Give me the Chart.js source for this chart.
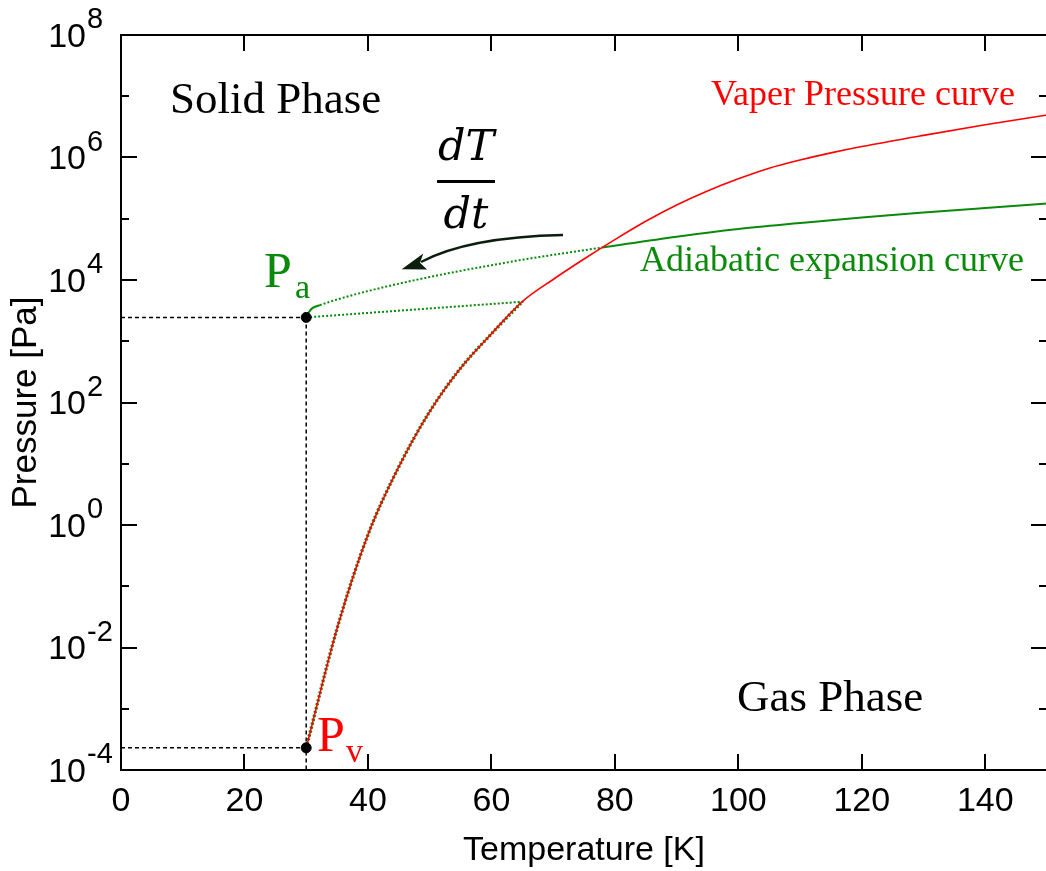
<!DOCTYPE html>
<html>
<head>
<meta charset="utf-8">
<script src="https://cdn.jsdelivr.net/npm/chart.js@4.4.1/dist/chart.umd.min.js"></script>
<style>
  html, body { margin: 0; padding: 0; background: #fff; overflow: hidden; }
</style>
</head>
<body>
<canvas id="phaseChart" width="1047" height="871"></canvas>
<script>
// values: temperature [K], pressure [Pa]
var xTicks = [0, 20, 40, 60, 80, 100, 120, 140];
var yTickExp = [-4, -2, 0, 2, 4, 6, 8];

// vapor pressure curve (red)
var vaporT = [30, 35, 40, 45, 50, 55, 60, 65, 70, 75, 80, 85, 90, 95, 100, 105, 110, 115, 120, 130, 140, 150];
var vaporP = [2.3e-4, 0.0204, 0.69, 8.9, 71, 363, 1320, 4430, 1.02e4, 2.2e4, 4.57e4, 9.1e4, 1.68e5, 2.85e5, 4.5e5, 6.7e5, 9.1e5, 1.19e6, 1.51e6, 2.3e6, 3.42e6, 4.94e6];

// adiabatic expansion curve (green, solid part)
var adiaT = [78, 90, 100, 110, 120, 130, 140, 150];
var adiaP = [3.4e4, 5.1e4, 6.8e4, 8.5e4, 1.05e5, 1.26e5, 1.5e5, 1.78e5];

// adiabatic curve continued below the crossing (dotted)
var adiaDotT = [32.2, 35, 40, 45, 50, 55, 60, 65, 70, 78];
var adiaDotP = [3890, 4800, 6600, 8700, 1.12e4, 1.41e4, 1.74e4, 2.14e4, 2.57e4, 3.4e4];

// short solid bend at Pa
var bendT = [30, 30.4, 31, 32.2];
var bendP = [2450, 2950, 3470, 3890];

// lower dotted path from Pa to the vapor curve
var lowT = [30, 65.2];
var lowP = [2450, 4430];

// vapor curve part followed by the dotted green path
var alongT = [30, 35, 40, 45, 50, 55, 60, 65];
var alongP = [2.3e-4, 0.0204, 0.69, 8.9, 71, 363, 1320, 4430];

// marked points Pa and Pv
var markT = [30, 30];
var markP = [2450, 2.3e-4];

function pts(xs, ys) {
  return xs.map(function (x, i) { return { x: x, y: ys[i] }; });
}

var GREEN = '#0a8a0a';
var RED = '#ff0000';

var axesAndNotes = {
  id: 'axesAndNotes',
  afterDraw: function (chart) {
    var ctx = chart.ctx;
    var a = chart.chartArea;
    var xs = chart.scales.x;
    var ys = chart.scales.y;
    ctx.save();

    function seg(x1, y1, x2, y2) {
      ctx.beginPath();
      ctx.moveTo(x1, y1);
      ctx.lineTo(x2, y2);
      ctx.stroke();
    }

    // frame and inward ticks
    ctx.strokeStyle = '#000';
    ctx.lineWidth = 2;
    ctx.strokeRect(a.left, a.top, a.right - a.left, a.bottom - a.top);
    xTicks.forEach(function (v) {
      var px = Math.round(xs.getPixelForValue(v));
      seg(px, a.bottom, px, a.bottom - 16);
      seg(px, a.top, px, a.top + 16);
    });
    for (var e = -4; e <= 8; e++) {
      var py = Math.round(ys.getPixelForValue(Math.pow(10, e)));
      var len = (e % 2 === 0) ? 16 : 8;
      seg(a.left, py, a.left + len, py);
      seg(a.right, py, a.right - len, py);
    }

    // y tick labels with exponents
    ctx.fillStyle = '#000';
    ctx.textBaseline = 'alphabetic';
    yTickExp.forEach(function (ex) {
      var py = ys.getPixelForValue(Math.pow(10, ex));
      ctx.font = '34px "Liberation Sans"';
      ctx.textAlign = 'right';
      ctx.fillText('10', 86, py + 11.5);
      ctx.font = '29px "Liberation Sans"';
      ctx.textAlign = 'left';
      ctx.fillText(String(ex), 87, py - 7);
    });

    // region labels
    ctx.textAlign = 'left';
    ctx.font = '45px "Liberation Serif"';
    ctx.fillText('Solid Phase', 170, 113);
    ctx.fillText('Gas Phase', 737, 711);

    ctx.font = '36px "Liberation Serif"';
    ctx.fillStyle = RED;
    ctx.fillText('Vaper Pressure curve', 711, 105);
    ctx.fillStyle = GREEN;
    ctx.fillText('Adiabatic expansion curve', 640, 271);

    // Pa and Pv
    ctx.fillStyle = GREEN;
    ctx.font = '50px "Liberation Serif"';
    ctx.fillText('P', 264, 287);
    ctx.font = '34px "Liberation Serif"';
    ctx.fillText('a', 295, 298);
    ctx.fillStyle = RED;
    ctx.font = '50px "Liberation Serif"';
    ctx.fillText('P', 317, 751);
    ctx.font = '34px "Liberation Serif"';
    ctx.fillText('v', 346, 762);

    // dT/dt
    ctx.fillStyle = '#000';
    ctx.textAlign = 'center';
    ctx.font = 'italic 43px "DejaVu Serif"';
    ctx.fillText('dT', 466, 160);
    ctx.fillText('dt', 466, 228);
    ctx.fillRect(437, 180, 58, 3);

    // curved arrow
    ctx.strokeStyle = '#0b1e0b';
    ctx.fillStyle = '#0b1e0b';
    ctx.lineWidth = 2.5;
    ctx.beginPath();
    ctx.moveTo(563, 235);
    ctx.quadraticCurveTo(468, 237, 421, 262);
    ctx.stroke();
    ctx.beginPath();
    ctx.moveTo(401.7, 269.3);
    ctx.lineTo(423.3, 253.5);
    ctx.lineTo(420, 262.7);
    ctx.lineTo(427, 269.5);
    ctx.closePath();
    ctx.fill();

    ctx.restore();
  }
};

var chart = new Chart(document.getElementById('phaseChart').getContext('2d'), {
  type: 'line',
  data: {
    datasets: [
      {
        data: pts(markT, markP),
        showLine: false,
        pointRadius: 5,
        pointBackgroundColor: '#000',
        pointBorderColor: '#000',
        order: 0
      },
      {
        data: pts(vaporT, vaporP),
        borderColor: RED,
        borderWidth: 1.6,
        pointRadius: 0,
        cubicInterpolationMode: 'monotone',
        order: 1
      },
      {
        data: pts(alongT, alongP),
        borderColor: GREEN,
        borderWidth: 3.4,
        borderDash: [2, 2],
        pointRadius: 0,
        cubicInterpolationMode: 'monotone',
        order: 2
      },
      {
        data: pts(adiaT, adiaP),
        borderColor: GREEN,
        borderWidth: 2,
        pointRadius: 0,
        cubicInterpolationMode: 'monotone',
        order: 3
      },
      {
        data: pts(adiaDotT, adiaDotP),
        borderColor: GREEN,
        borderWidth: 2,
        borderDash: [2, 2],
        pointRadius: 0,
        cubicInterpolationMode: 'monotone',
        order: 3
      },
      {
        data: pts(bendT, bendP),
        borderColor: GREEN,
        borderWidth: 2,
        pointRadius: 0,
        cubicInterpolationMode: 'monotone',
        order: 3
      },
      {
        data: pts(lowT, lowP),
        borderColor: GREEN,
        borderWidth: 2,
        borderDash: [2, 2],
        pointRadius: 0,
        order: 3
      },
      {
        data: pts([0, 30], [markP[0], markP[0]]),
        borderColor: '#000',
        borderWidth: 1.5,
        borderDash: [4, 3],
        pointRadius: 0,
        order: 4
      },
      {
        data: pts([0, 30], [markP[1], markP[1]]),
        borderColor: '#000',
        borderWidth: 1.5,
        borderDash: [4, 3],
        pointRadius: 0,
        order: 4
      },
      {
        data: pts([30, 30], [markP[0], 1e-4]),
        borderColor: '#000',
        borderWidth: 1.5,
        borderDash: [4, 3],
        pointRadius: 0,
        order: 4
      }
    ]
  },
  options: {
    responsive: false,
    animation: false,
    layout: { autoPadding: false, padding: { top: 35, right: 0, left: 0, bottom: 0 } },
    plugins: {
      legend: { display: false },
      tooltip: { enabled: false }
    },
    scales: {
      x: {
        type: 'linear',
        min: 0,
        max: 150,
        border: { display: false },
        grid: { drawOnChartArea: false, drawTicks: false },
        ticks: {
          color: '#000',
          font: { family: 'Liberation Sans', size: 34 },
          padding: 11,
          maxRotation: 0
        },
        afterBuildTicks: function (scale) {
          scale.ticks = xTicks.map(function (v) { return { value: v }; });
        },
        afterFit: function (scale) {
          scale.height = 101;
          scale.paddingLeft = 0;
          scale.paddingRight = 0;
        },
        title: {
          display: true,
          text: 'Temperature [K]',
          color: '#000',
          font: { family: 'Liberation Sans', size: 34 },
          padding: { top: 0, bottom: 0 }
        }
      },
      y: {
        type: 'logarithmic',
        min: 1e-4,
        max: 1e8,
        border: { display: false },
        grid: { drawOnChartArea: false, drawTicks: false },
        ticks: { display: false },
        afterBuildTicks: function (scale) {
          scale.ticks = yTickExp.map(function (ex) { return { value: Math.pow(10, ex) }; });
        },
        afterFit: function (scale) {
          scale.width = 121;
          scale.paddingTop = 0;
          scale.paddingBottom = 0;
        },
        title: {
          display: true,
          text: 'Pressure [Pa]',
          color: '#000',
          font: { family: 'Liberation Sans', size: 35 },
          padding: { top: 5, bottom: 0 }
        }
      }
    }
  },
  plugins: [axesAndNotes]
});
</script>
</body>
</html>
